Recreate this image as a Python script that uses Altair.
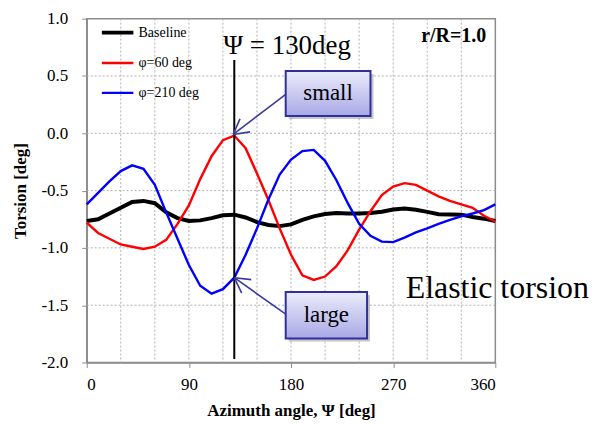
import math
import altair as alt
import pandas as pd

# ---------------- data ----------------
AZIMUTH = [0, 10, 20, 30, 40, 50, 60, 70, 80, 90, 100, 110, 120, 130, 140, 150, 160, 170, 180,
           190, 200, 210, 220, 230, 240, 250, 260, 270, 280, 290, 300, 310, 320, 330, 340, 350, 360]

BASELINE = [-0.765, -0.75, -0.70, -0.65, -0.60, -0.59, -0.61, -0.69, -0.74, -0.765,
            -0.76, -0.74, -0.715, -0.71, -0.735, -0.775, -0.80, -0.81, -0.795,
            -0.755, -0.725, -0.705, -0.695, -0.70, -0.70, -0.695, -0.685, -0.665,
            -0.657, -0.668, -0.686, -0.706, -0.708, -0.71, -0.73, -0.745, -0.765]

PHI60 = [-0.78, -0.87, -0.92, -0.97, -0.99, -1.01, -0.99, -0.93, -0.79, -0.63,
         -0.40, -0.20, -0.06, -0.02, -0.13, -0.35, -0.58, -0.83, -1.06,
         -1.24, -1.28, -1.25, -1.16, -1.02, -0.84, -0.68, -0.54, -0.465,
         -0.435, -0.45, -0.50, -0.55, -0.59, -0.62, -0.65, -0.72, -0.77]

PHI210 = [-0.62, -0.52, -0.42, -0.33, -0.28, -0.31, -0.45, -0.69, -0.92, -1.15,
          -1.33, -1.40, -1.36, -1.26, -1.06, -0.83, -0.58, -0.36, -0.23,
          -0.155, -0.145, -0.24, -0.41, -0.61, -0.79, -0.895, -0.945, -0.95,
          -0.91, -0.865, -0.83, -0.79, -0.755, -0.725, -0.70, -0.67, -0.62]

SERIES = ["Baseline", "φ=60 deg", "φ=210 deg"]
COLORS = ["#000000", "#ff0000", "#0000ff"]
WIDTHS = [4, 2.4, 2.4]

X_LABELS = [0, 90, 180, 270, 360]
X_GRID = [30, 60, 90, 120, 150, 180, 210, 240, 270, 300, 330]
Y_TICKS = [-2.0, -1.5, -1.0, -0.5, 0.0, 0.5, 1.0]
Y_GRID = [-1.5, -1.0, -0.5, 0.0, 0.5]

# annotations (data coordinates)
MARK_AZIMUTH = 130
MARK_TOP, MARK_BOTTOM = 0.64, -1.97
BOX_LABELS = ["small", "large"]
BOX_X1 = [175.3, 175.3]
BOX_X2 = [250.0, 247.0]
BOX_Y1 = [0.151, -1.79]
BOX_Y2 = [0.543, -1.384]
BOX_TX = [212.6, 211.1]
BOX_TY = [0.347, -1.587]
ARROW_TAIL_X = [175.3, 175.3]
ARROW_TAIL_Y = [0.34, -1.578]
ARROW_TIP_X = [129.0, 130.0]
ARROW_TIP_Y = [-0.01, -1.26]

W, H = 410, 345
XD, YD = [0, 360], [-2.0, 1.0]

rows = []
for name, vals in zip(SERIES, [BASELINE, PHI60, PHI210]):
    for a, v in zip(AZIMUTH, vals):
        rows.append({"azimuth": a, "torsion": v, "series": name})
df = pd.DataFrame(rows)

SERIF = "Liberation Serif"
GRID_COLOR = "#b0b0b0"
X_TITLE = "Azimuth angle, Ψ [deg]"
Y_TITLE = "Torsion [deg]"
xscale = alt.Scale(domain=XD, nice=False, zero=False)
yscale = alt.Scale(domain=YD, nice=False, zero=False)
x_axis = alt.Axis(values=X_LABELS, title=X_TITLE, grid=False,
                  tickSize=5, labelPadding=9, titlePadding=10)
y_axis = alt.Axis(values=Y_TICKS, title=Y_TITLE, grid=False,
                  labelExpr="replace(format(datum.value, '.1f'), '\u2212', '-')",
                  tickSize=5, labelPadding=14, titlePadding=12)

# dotted grid
vgrid = alt.Chart(pd.DataFrame({"g": X_GRID})).mark_rule(
    color=GRID_COLOR, strokeDash=[2, 2], strokeWidth=1).encode(
    x=alt.X("g:Q", scale=xscale, axis=x_axis))
hgrid = alt.Chart(pd.DataFrame({"g": Y_GRID})).mark_rule(
    color=GRID_COLOR, strokeDash=[2, 2], strokeWidth=1).encode(
    y=alt.Y("g:Q", scale=yscale, axis=y_axis))

legend = alt.Legend(
    title=None, orient="none", legendX=13, legendY=-4, symbolType="stroke",
    symbolSize=1000, rowPadding=5, padding=0, labelFont=SERIF, labelFontSize=14,
    labelColor="#000", labelOffset=3,
)

lines = alt.Chart(df).mark_line().encode(
    x=alt.X("azimuth:Q", scale=xscale, axis=x_axis),
    y=alt.Y("torsion:Q", scale=yscale, axis=y_axis),
    color=alt.Color("series:N", sort=SERIES,
                    scale=alt.Scale(type="ordinal", domain=SERIES, range=COLORS), legend=legend),
    strokeWidth=alt.StrokeWidth("series:N", sort=SERIES,
                                scale=alt.Scale(type="ordinal", domain=SERIES, range=WIDTHS),
                                legend=legend),
)

vline_df = pd.DataFrame({"x": [MARK_AZIMUTH], "y": [MARK_TOP], "y2": [MARK_BOTTOM]})
vline = alt.Chart(vline_df).mark_rule(color="#000", strokeWidth=2).encode(
    x=alt.X("x:Q", scale=xscale, axis=x_axis), y=alt.Y("y:Q", scale=yscale, axis=y_axis), y2="y2:Q")

# arrows
px_per_x = W / (XD[1] - XD[0])
px_per_y = H / (YD[1] - YD[0])
angles = []
for tx, ty, hx, hy in zip(ARROW_TAIL_X, ARROW_TAIL_Y, ARROW_TIP_X, ARROW_TIP_Y):
    dx = (hx - tx) * px_per_x
    dy = -(hy - ty) * px_per_y
    angles.append(math.degrees(math.atan2(dy, dx)) % 360)
arrow_df = pd.DataFrame({"x": ARROW_TAIL_X, "y": ARROW_TAIL_Y, "x2": ARROW_TIP_X,
                         "y2": ARROW_TIP_Y, "angle": angles})
ARROW_COLOR = "#3a3a9c"
arrow_lines = alt.Chart(arrow_df).mark_rule(color=ARROW_COLOR, strokeWidth=1.6).encode(
    x=alt.X("x:Q", scale=xscale, axis=x_axis), y=alt.Y("y:Q", scale=yscale, axis=y_axis),
    x2="x2:Q", y2="y2:Q")
arrow_heads = alt.Chart(arrow_df).mark_point(
    shape="M0,0L-1,-0.55M0,0L-1,0.55", filled=False, color=ARROW_COLOR,
    strokeWidth=1.6, size=900, opacity=1,
).encode(
    x=alt.X("x2:Q", scale=xscale, axis=x_axis), y=alt.Y("y2:Q", scale=yscale, axis=y_axis),
    angle=alt.Angle("angle:Q", scale=None))

box_df = pd.DataFrame({"label": BOX_LABELS, "x1": BOX_X1, "x2": BOX_X2, "y1": BOX_Y1,
                       "y2": BOX_Y2, "tx": BOX_TX, "ty": BOX_TY})
shadow = alt.Chart(box_df).mark_rect(
    color="#000", opacity=0.22, xOffset=3, x2Offset=3, yOffset=3, y2Offset=3).encode(
    x=alt.X("x1:Q", scale=xscale, axis=x_axis), x2="x2:Q",
    y=alt.Y("y1:Q", scale=yscale, axis=y_axis), y2="y2:Q")
boxes = alt.Chart(box_df).mark_rect(
    fill=alt.LinearGradient(gradient="linear", x1=0, y1=0, x2=0, y2=1,
                            stops=[alt.GradientStop(color="#ececfb", offset=0),
                                   alt.GradientStop(color="#a8a8e6", offset=1)]),
    stroke="#30309a", strokeWidth=2).encode(
    x=alt.X("x1:Q", scale=xscale, axis=x_axis), x2="x2:Q",
    y=alt.Y("y1:Q", scale=yscale, axis=y_axis), y2="y2:Q")
box_text = alt.Chart(box_df).mark_text(
    font=SERIF, fontSize=23, color="#000", align="center", baseline="middle").encode(
    x=alt.X("tx:Q", scale=xscale, axis=x_axis), y=alt.Y("ty:Q", scale=yscale, axis=y_axis),
    text="label:N")

TEXT_LABELS = ["Ψ = 130deg", "r/R=1.0", "Elastic torsion"]
TEXT_X = [120.3, 352.0, 281.0]
TEXT_Y = [0.689, 0.80, -1.44]
t_df = pd.DataFrame({"t": TEXT_LABELS, "x": TEXT_X, "y": TEXT_Y})


def text_layer(i, **kw):
    return alt.Chart(t_df.iloc[[i]]).mark_text(font=SERIF, color="#000", **kw).encode(
        x=alt.X("x:Q", scale=xscale, axis=x_axis), y=alt.Y("y:Q", scale=yscale, axis=y_axis),
        text="t:N")


psi_text = text_layer(0, fontSize=27, align="left", baseline="alphabetic")
rr_text = text_layer(1, fontSize=20, fontWeight="bold", align="right", baseline="alphabetic")
el_text = text_layer(2, fontSize=32, align="left", baseline="alphabetic")

chart = alt.layer(
    vgrid, hgrid, lines, vline, arrow_lines, arrow_heads, shadow, boxes, box_text,
    psi_text, rr_text, el_text
).properties(
    width=W, height=H,
    background="#ffffff",
    autosize=alt.AutoSizeParams(type="none"),
    padding={"left": 79, "top": 10, "right": 95, "bottom": 60},
).configure_axis(
    grid=False, domainColor="#8c8c8c", tickColor="#8c8c8c",
    domainWidth=1.5,
    labelFont=SERIF, labelFontSize=17, labelColor="#000",
    titleFont=SERIF, titleFontSize=17, titleFontWeight="bold", titleColor="#000",
).configure_view(
    stroke="#8c8c8c", strokeWidth=1.5
)

chart.save("out.html", embed_options={"renderer": "svg", "actions": False})
